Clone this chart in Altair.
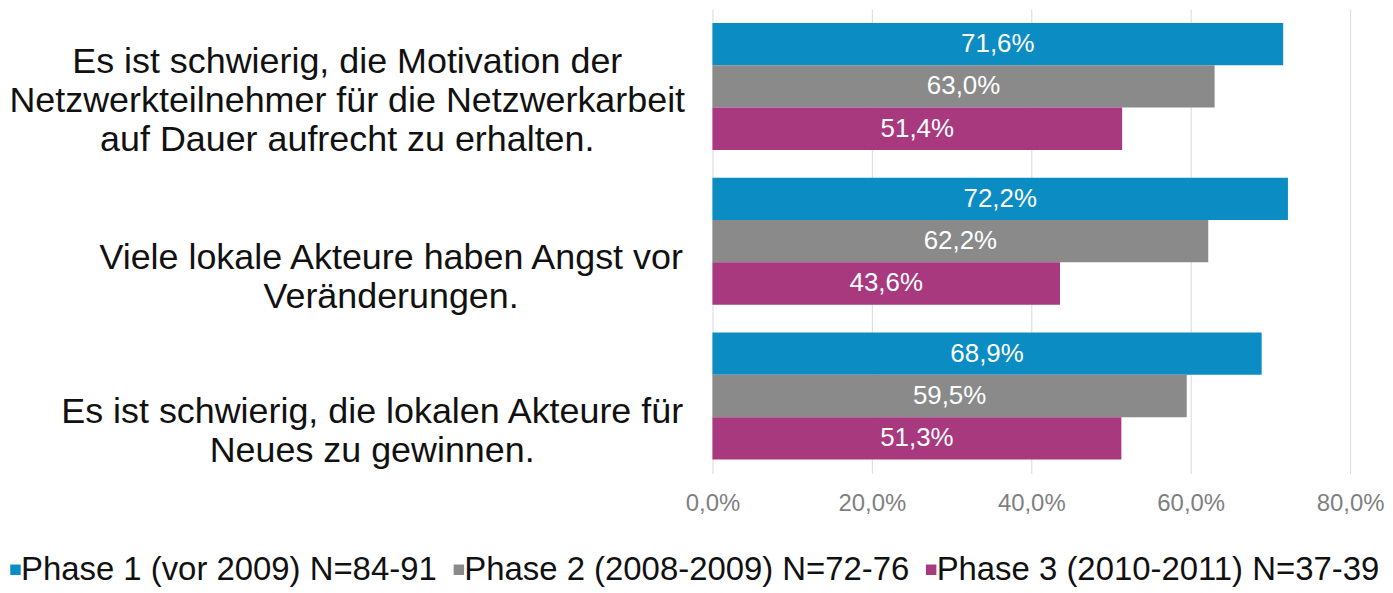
import altair as alt
import pandas as pd

categories = [
    "Es ist schwierig, die Motivation der|Netzwerkteilnehmer für die Netzwerkarbeit|auf Dauer aufrecht zu erhalten.",
    "Viele lokale Akteure haben Angst vor|Veränderungen.",
    "Es ist schwierig, die lokalen Akteure für|Neues zu gewinnen.",
]
phases = [
    "Phase 1 (vor 2009) N=84-91",
    "Phase 2 (2008-2009) N=72-76",
    "Phase 3 (2010-2011) N=37-39",
]
phase1 = [71.6, 72.2, 68.9]
phase2 = [63.0, 62.2, 59.5]
phase3 = [51.4, 43.6, 51.3]
colors = ["#0B8DC4", "#8A8A8A", "#A8397F"]
x_ticks = [0, 20, 40, 60, 80]

rows = []
for ph, vals in zip(phases, [phase1, phase2, phase3]):
    for c, v in zip(categories, vals):
        rows.append({"cat": c, "phase": ph, "value": v})
df = pd.DataFrame(rows)

FONT = "Liberation Sans"

y_enc = alt.Y(
    "cat:N",
    sort=categories,
    title=None,
    scale=alt.Scale(paddingInner=0.18, paddingOuter=0.09),
    axis=alt.Axis(
        labelExpr="split(datum.label, '|')",
        labelFont=FONT,
        labelFontSize=36,
        labelLineHeight=39,
        labelColor="#111111",
        labelLimit=0,
        labelAlign="center",
        labelBaseline="bottom",
        labelOffset={
            "condition": [
                {"test": "indexof(datum.value, 'Motivation') >= 0", "value": -5},
                {"test": "indexof(datum.value, 'Neues') >= 0", "value": 35},
            ],
            "value": 36,
        },
        labelPadding={
            "condition": [
                {"test": "indexof(datum.value, 'Motivation') >= 0", "value": 367},
                {"test": "indexof(datum.value, 'Neues') >= 0", "value": 342},
            ],
            "value": 323,
        },
        ticks=False,
        domain=False,
        grid=False,
    ),
)

x_enc = alt.X(
    "value:Q",
    title=None,
    scale=alt.Scale(domain=[0, 80], nice=False),
    axis=alt.Axis(
        values=x_ticks,
        labelExpr="replace(format(datum.value, '.1f'), '.', ',') + '%'",
        labelFont=FONT,
        labelFontSize=24,
        labelColor="#7f7f7f",
        labelPadding=18,
        labelFlush=False,
        labelOverlap=False,
        ticks=False,
        domain=False,
        grid=True,
        gridColor="#d9d9d9",
        gridWidth=1,
    ),
)

base = alt.Chart(df)

bars = base.mark_bar().encode(
    y=y_enc,
    yOffset=alt.YOffset("phase:N", sort=phases),
    x=x_enc,
    color=alt.Color(
        "phase:N",
        sort=phases,
        scale=alt.Scale(domain=phases, range=colors),
        legend=alt.Legend(
            title=None,
            orient="none",
            legendX=-707,
            legendY=546,
            padding=0,
            direction="horizontal",
            columns=3,
            symbolType="square",
            symbolSize=110,
            symbolStrokeWidth=0,
            symbolOffset={"expr": "-9"},
            labelFont=FONT,
            labelFontSize=33,
            labelColor="#111111",
            labelOffset={"expr": "-11"},
            labelLimit=0,
            columnPadding=14,
        ),
    ),
)

labels = base.transform_calculate(
    mid="datum.value / 2",
    txt="replace(format(datum.value, '.1f'), '.', ',') + '%'",
).mark_text(
    color="white", font=FONT, fontSize=26, align="center", baseline="middle"
).encode(
    y=alt.Y("cat:N", sort=categories),
    yOffset=alt.YOffset("phase:N", sort=phases),
    x=alt.X("mid:Q"),
    text="txt:N",
)

chart = (
    alt.layer(bars, labels)
    .properties(
        width=640,
        height=466,
        autosize=alt.AutoSizeParams(type="none"),
        padding={"left": 707, "top": 0, "right": 35, "bottom": 113},
    )
    .configure_view(stroke=None)
)

chart.save("out.html", embed_options={"renderer": "svg", "actions": False})
